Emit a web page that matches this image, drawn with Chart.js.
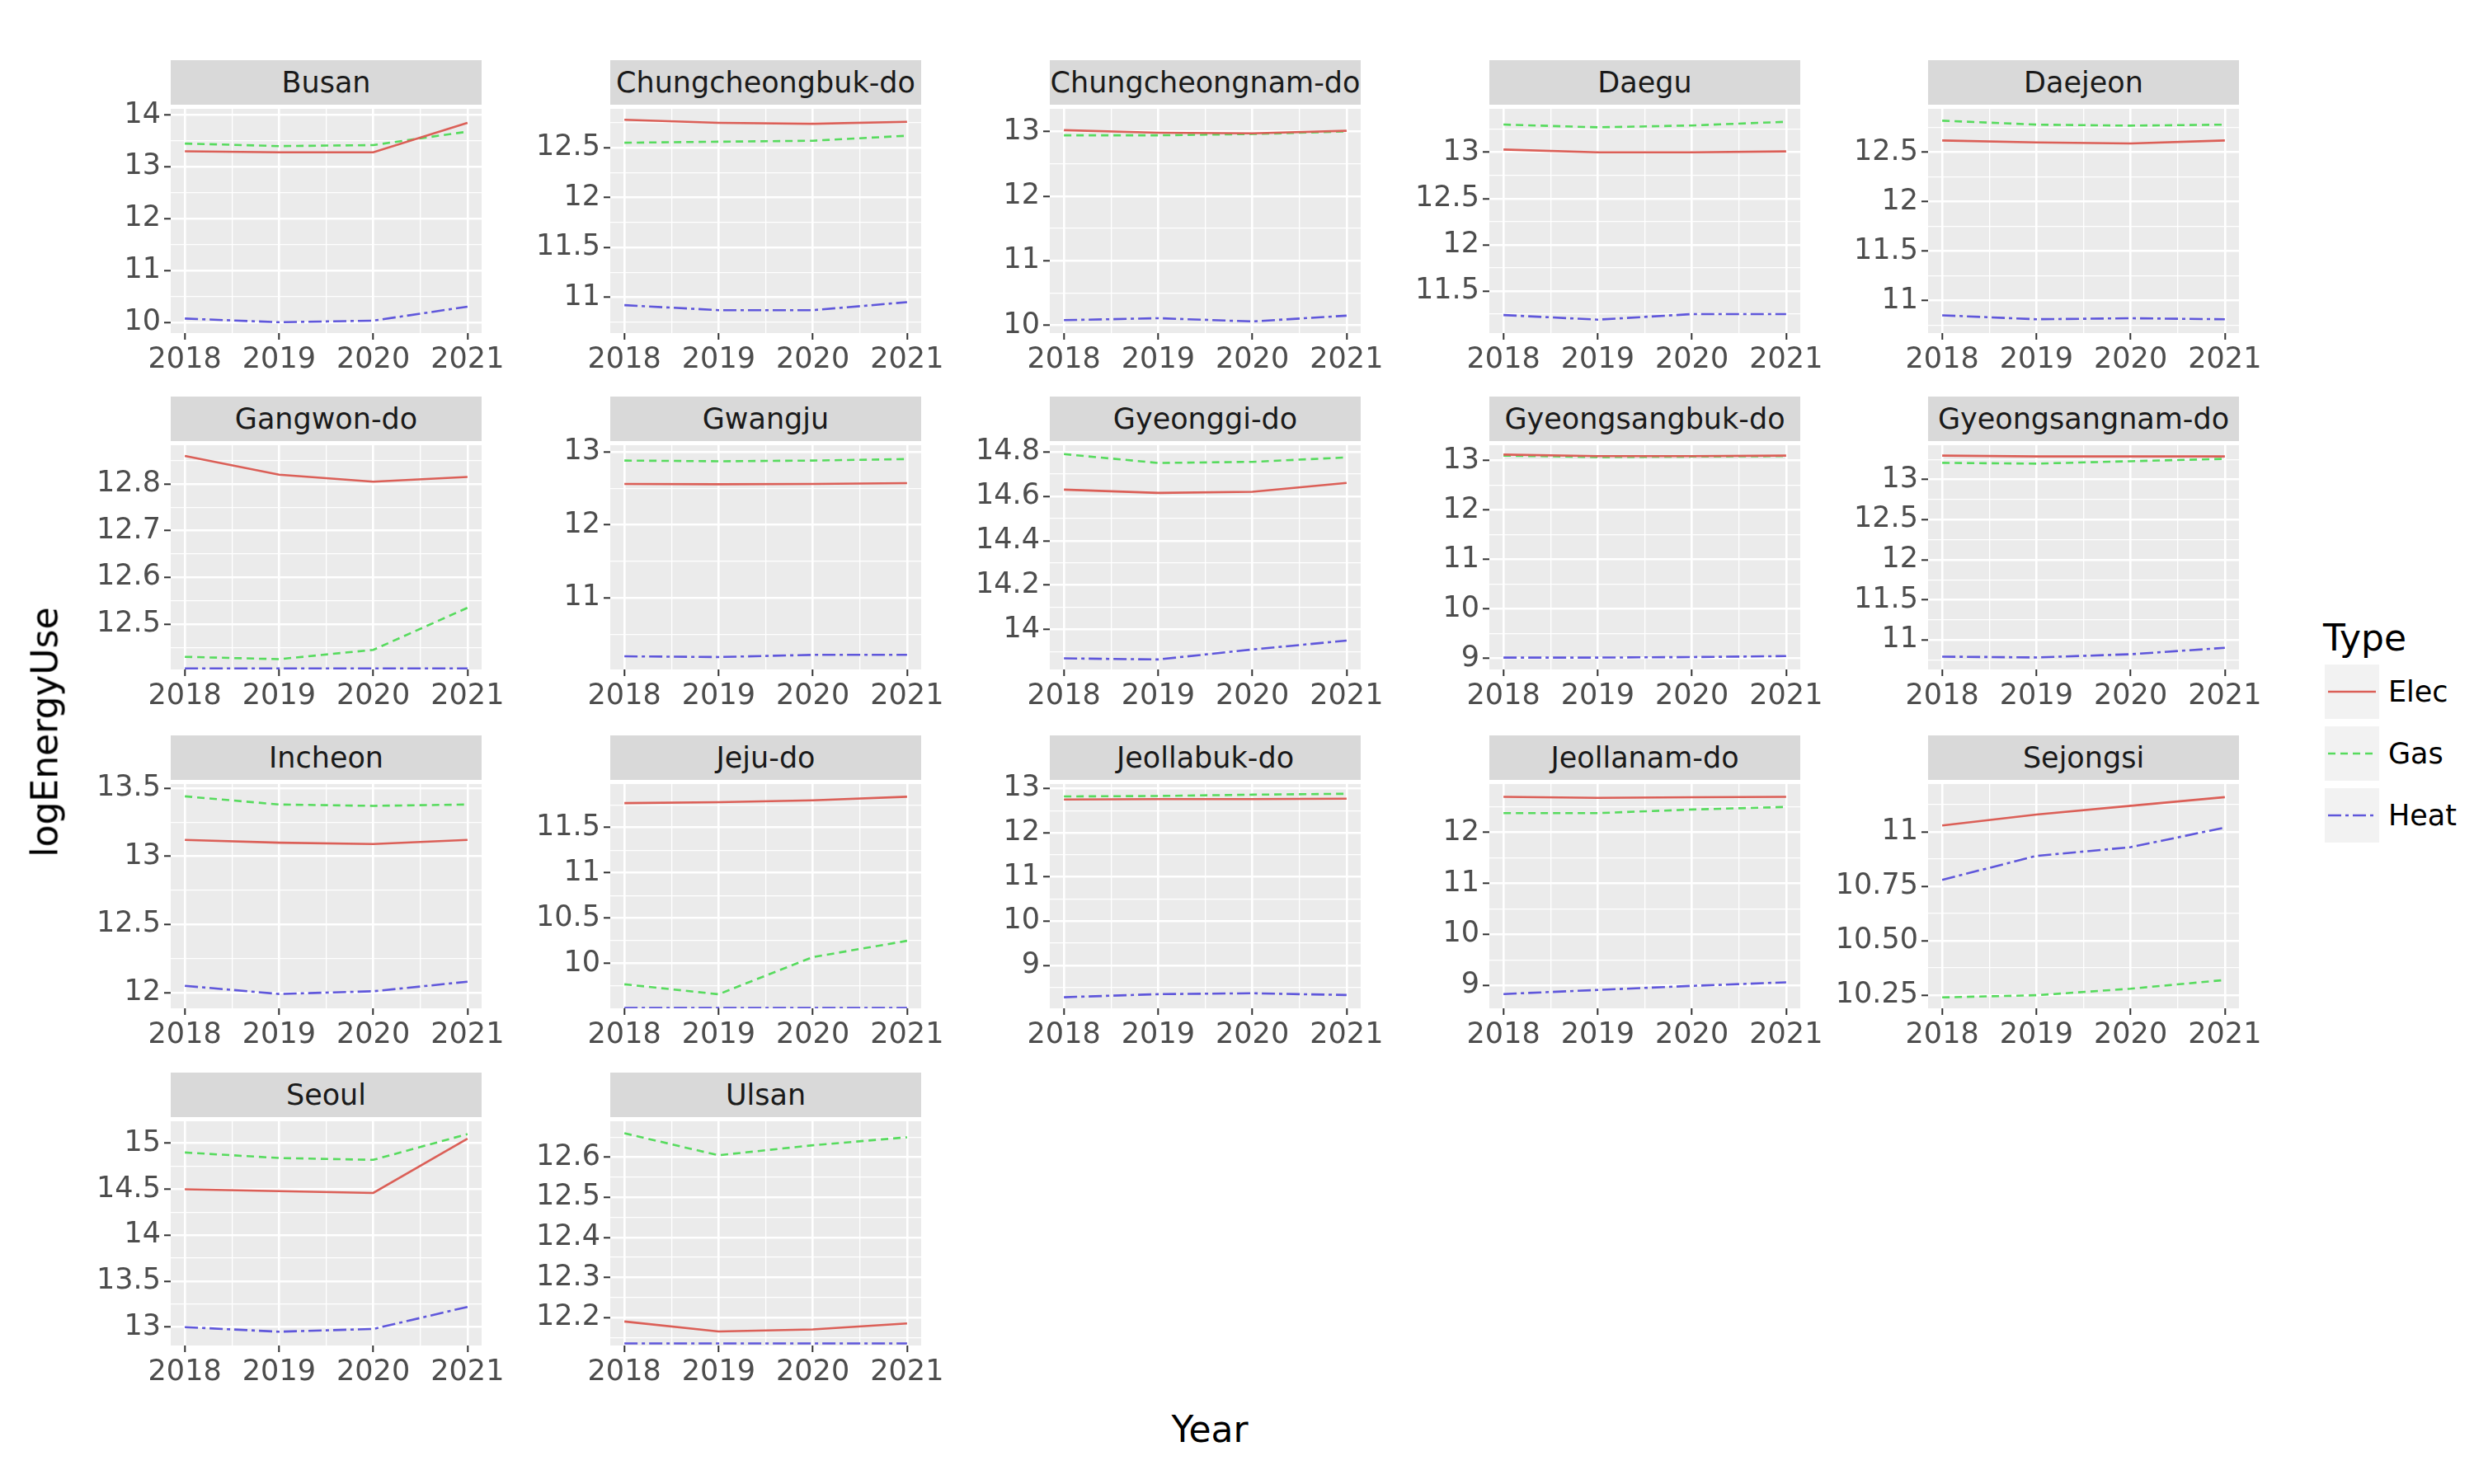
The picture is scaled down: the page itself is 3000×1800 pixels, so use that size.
<!DOCTYPE html>
<html><head><meta charset="utf-8">
<script src="https://cdn.jsdelivr.net/npm/chart.js@4"></script>
<style>
body{margin:0;width:3000px;height:1800px;background:#fff;position:relative;font-family:"DejaVu Sans",sans-serif;overflow:hidden}
.strip{position:absolute;background:#D9D9D9;color:#1A1A1A;font-size:35px;display:flex;align-items:center;justify-content:center;white-space:nowrap}
canvas{position:absolute}
.t{position:absolute;color:#000;white-space:nowrap}
</style></head><body>
<script>
const years=[2018,2019,2020,2021];
const regions=["Busan","Chungcheongbuk-do","Chungcheongnam-do","Daegu","Daejeon","Gangwon-do","Gwangju","Gyeonggi-do","Gyeongsangbuk-do","Gyeongsangnam-do","Incheon","Jeju-do","Jeollabuk-do","Jeollanam-do","Sejongsi","Seoul","Ulsan"];
const elec=[[13.3,13.28,13.28,13.85],[12.78,12.75,12.74,12.76],[13.02,12.98,12.97,13.01],[13.03,13.0,13.0,13.01],[12.62,12.6,12.59,12.62],[12.86,12.82,12.805,12.815],[12.56,12.555,12.56,12.57],[14.63,14.615,14.62,14.66],[13.12,13.09,13.09,13.1],[13.3,13.29,13.29,13.29],[13.12,13.1,13.09,13.12],[11.77,11.78,11.8,11.84],[12.75,12.76,12.76,12.77],[12.7,12.68,12.69,12.7],[11.03,11.08,11.12,11.16],[14.5,14.48,14.46,15.05],[12.19,12.165,12.17,12.185]];
const gas=[[13.45,13.4,13.42,13.68],[12.55,12.56,12.57,12.62],[12.94,12.94,12.96,13.0],[13.3,13.27,13.29,13.33],[12.82,12.78,12.77,12.78],[12.43,12.425,12.445,12.535],[12.88,12.87,12.88,12.9],[14.79,14.75,14.755,14.775],[13.1,13.07,13.08,13.09],[13.21,13.2,13.23,13.26],[13.44,13.38,13.37,13.38],[9.77,9.66,10.07,10.25],[12.82,12.83,12.86,12.88],[12.38,12.38,12.45,12.5],[10.24,10.25,10.28,10.32],[14.9,14.84,14.82,15.1],[12.66,12.605,12.63,12.65]];
const heat=[[10.07,10.0,10.03,10.3],[10.92,10.87,10.87,10.95],[10.08,10.11,10.06,10.15],[11.24,11.19,11.25,11.25],[10.85,10.81,10.82,10.81],[12.405,12.405,12.405,12.405],[10.2,10.19,10.22,10.22],[13.87,13.865,13.91,13.95],[9.02,9.02,9.03,9.05],[10.79,10.78,10.82,10.9],[12.05,11.99,12.01,12.08],[9.51,9.51,9.51,9.51],[8.28,8.35,8.37,8.33],[8.83,8.91,8.99,9.06],[10.78,10.89,10.93,11.02],[13.0,12.95,12.98,13.22],[12.135,12.135,12.135,12.135]];
const yMin=[9.79,10.64,9.88,11.045,10.67,12.403,10.02,13.82,8.78,10.63,11.885,9.505,8.03,8.55,10.19,12.8,12.13];
const yMax=[14.12,12.89,13.35,13.47,12.94,12.883,13.09,14.83,13.31,13.43,13.53,11.98,13.1,12.95,11.22,15.24,12.69];
const yStep=[1,0.5,1,0.5,0.5,0.1,1,0.2,1,0.5,0.5,0.5,1,1,0.25,0.5,0.1];
const typeNames=["Elec","Gas","Heat"];
const colors=["#DB5F57","#57DB5E","#5F57DB"];
const dashes=[[],[9,6],[16,5,4,5]];

const colLeft=[207,740,1273,1806,2338], rowTop=[127,535,946,1355], PW=377, PH=277, SH=54;
const YW=130, XH=70, PT=20, PR=40;
function fmt(v,s){ if(Math.abs(v-Math.round(v))<1e-9) return String(Math.round(v)); return s===0.25? v.toFixed(2): String(+v.toFixed(2)); }
function mkTicks(min,max,step){const t=[];const h=step/2;for(let k=Math.ceil(min/h-1e-9);k*h<=max+1e-9;k++){const v=+(k*h).toFixed(9);t.push({value:v,minor:(k%2)!==0});}return t;}
regions.forEach((name,i)=>{
  const c=i%5,r=Math.floor(i/5),L=colLeft[c],T=rowTop[r];
  const s=document.createElement('div');s.className='strip';
  Object.assign(s.style,{left:L+'px',top:(T-SH)+'px',width:PW+'px',height:SH+'px'});s.textContent=name;document.body.appendChild(s);
  const cv=document.createElement('canvas');
  const W=YW+PW+PR,H=PT+PH+XH;
  Object.assign(cv.style,{left:(L-YW)+'px',top:(T-PT)+'px',width:W+'px',height:H+'px'});
  cv.width=W;cv.height=H;document.body.appendChild(cv);
  const series=[elec[i],gas[i],heat[i]];
  new Chart(cv,{type:'line',
    data:{datasets:series.map((vals,j)=>({label:typeNames[j],data:years.map((y,k)=>({x:y,y:vals[k]})),borderColor:colors[j],borderWidth:2.6,borderDash:dashes[j],pointRadius:0,fill:false,tension:0}))},
    options:{responsive:false,animation:false,devicePixelRatio:1,
      layout:{padding:{left:0,right:PR,top:PT,bottom:0}},
      plugins:{legend:{display:false},tooltip:{enabled:false}},
      scales:{
        x:{type:'linear',min:2017.85,max:2021.15,
          afterBuildTicks:sc=>{sc.ticks=mkTicks(2017.85,2021.15,1);},
          afterFit:sc=>{sc.height=XH;},
          border:{display:false},
          grid:{color:'#FFFFFF',lineWidth:ctx=>ctx.tick&&ctx.tick.minor?1.3:2.6,tickColor:ctx=>ctx.tick&&ctx.tick.minor?'rgba(0,0,0,0)':'#333333',tickLength:8,tickWidth:2},
          ticks:{autoSkip:false,maxRotation:0,padding:4,color:'#4D4D4D',font:{family:'DejaVu Sans',size:35},callback:(v,k,t)=>t[k].minor?'':String(v)}},
        y:{type:'linear',min:yMin[i],max:yMax[i],
          afterBuildTicks:sc=>{sc.ticks=mkTicks(yMin[i],yMax[i],yStep[i]);},
          afterFit:sc=>{sc.width=YW;},
          border:{display:false},
          grid:{color:'#FFFFFF',lineWidth:ctx=>ctx.tick&&ctx.tick.minor?1.3:2.6,tickColor:ctx=>ctx.tick&&ctx.tick.minor?'rgba(0,0,0,0)':'#333333',tickLength:8,tickWidth:2},
          ticks:{autoSkip:false,padding:4,color:'#4D4D4D',font:{family:'DejaVu Sans',size:35},callback:(v,k,t)=>t[k].minor?'':fmt(v,yStep[i])}}
      }},
    plugins:[{id:'bg',beforeDraw:ch=>{const a=ch.chartArea,g=ch.ctx;g.save();g.fillStyle='#EBEBEB';g.fillRect(a.left,a.top,a.right-a.left,a.bottom-a.top);g.restore();}}]
  });
});
const yt=document.createElement('div');yt.className='t';yt.textContent='logEnergyUse';
Object.assign(yt.style,{fontSize:'44px',left:'54px',top:'888px',transform:'translate(-50%,-50%) rotate(-90deg)'});document.body.appendChild(yt);
const xt=document.createElement('div');xt.className='t';xt.textContent='Year';
Object.assign(xt.style,{fontSize:'44px',left:'1467px',top:'1733px',transform:'translate(-50%,-50%)'});document.body.appendChild(xt);
const lt=document.createElement('div');lt.className='t';lt.textContent='Type';
Object.assign(lt.style,{fontSize:'44px',left:'2817px',top:'748px'});document.body.appendChild(lt);
typeNames.forEach((n,j)=>{
  const ky=806+j*75;
  const k=document.createElement('canvas');k.width=66;k.height=66;Object.assign(k.style,{left:'2819px',top:ky+'px'});document.body.appendChild(k);
  const g=k.getContext('2d');g.fillStyle='#F2F2F2';g.fillRect(0,0,66,66);g.strokeStyle=colors[j];g.lineWidth=2.6;g.setLineDash(dashes[j]);g.beginPath();g.moveTo(4,33);g.lineTo(62,33);g.stroke();
  const tx=document.createElement('div');tx.className='t';tx.textContent=n;
  Object.assign(tx.style,{fontSize:'35px',left:'2896px',top:(ky+33)+'px',transform:'translateY(-50%)'});document.body.appendChild(tx);
});
</script>
</body></html>
